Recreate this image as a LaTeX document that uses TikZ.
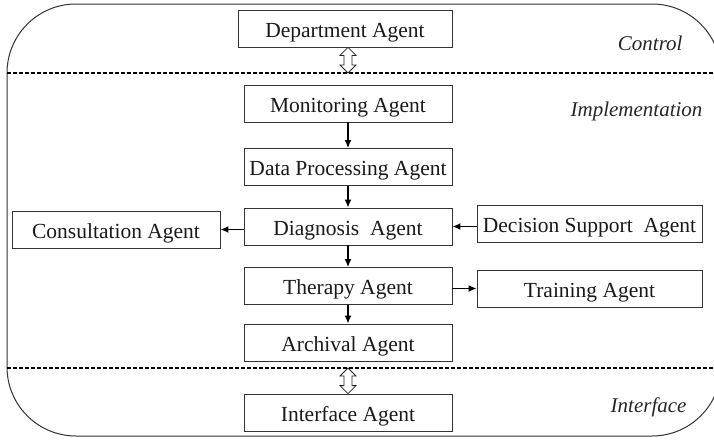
\documentclass[tikz,border=0pt]{standalone}
\usepackage{fontspec}
\setmainfont{Liberation Serif}
\usetikzlibrary{arrows.meta,calc}
\newcommand{\hollowdarrow}[2]{%
  \draw[harrow] let \p1=(#1), \p2=(#2) in
    (\x1,\y1) -- (\x1+8pt,\y1-8pt) -- (\x1+4pt,\y1-8pt) -- (\x1+4pt,\y2+8pt)
    -- (\x1+8pt,\y2+8pt) -- (\x1,\y2) -- (\x1-8pt,\y2+8pt) -- (\x1-4pt,\y2+8pt)
    -- (\x1-4pt,\y1-8pt) -- (\x1-8pt,\y1-8pt) -- cycle;}
\begin{document}
\begin{tikzpicture}[x=1pt,y=-1pt,
  box/.style={draw=black!80, line width=0.8pt, minimum height=37pt, inner sep=0pt,
    text height=18pt, text depth=1pt,
    font=\fontsize{21.5}{25}\selectfont, text=black!90},
  lbl/.style={font=\fontsize{21}{25}\selectfont\itshape, anchor=east, text=black!85},
  conn/.style={line width=1.4pt, -{Latex[length=8pt,width=7pt]}},
  frame/.style={draw=black!80, line width=1pt},
  sep/.style={line width=1.3pt, dash pattern=on 4pt off 2pt},
  harrow/.style={draw=black!85, line width=0.8pt, fill=white}]
\clip (0,0) rectangle (714,439);
\draw[frame, rounded corners=69pt] (7,4) rectangle (721,436);

\coordinate (s1l) at (7,73); \coordinate (s1r) at (714,73);
\coordinate (s2l) at (7,368); \coordinate (s2r) at (714,368);
\draw[sep] (s1l) -- (s1r);
\draw[sep] (s2l) -- (s2r);

\node[box, minimum width=214pt] (dep) at (345,28.5) {Department Agent};
\node[box, minimum width=208pt] (mon) at (348,103.5) {Monitoring Agent};
\node[box, minimum width=208pt] (dat) at (348,167) {Data Processing Agent};
\node[box, minimum width=208pt] (dia) at (348,226.5) {Diagnosis~~Agent};
\node[box, minimum width=208pt] (con) at (116,229.5) {Consultation Agent};
\node[box, minimum width=225pt] (dec) at (589.5,223.5) {Decision Support~~Agent};
\node[box, minimum width=208pt] (the) at (348,286) {Therapy Agent};
\node[box, minimum width=225pt] (tra) at (589.5,288.5) {Training Agent};
\node[box, minimum width=208pt] (arc) at (348,342.5) {Archival Agent};
\node[box, minimum width=208pt] (int) at (348,412.5) {Interface Agent};

\node[lbl] (lc) at (686,43) {Control};
\node[lbl] (li) at (706,111) {Implementation};
\node[lbl] (lf) at (690,407) {Interface};

\draw[conn] (mon) -- (dat);
\draw[conn] (dat) -- (dia);
\draw[conn] (dia) -- (the);
\draw[conn] (the) -- (arc);
\draw[conn] (dia.west |- con.east) -- (con.east);
\draw[conn] (dec.west |- dia.east) -- (dia.east);
\draw[conn] (the.east |- tra.west) -- (tra.west);

\coordinate (a1t) at (mon.north |- dep.south);
\coordinate (a1b) at (mon.north |- s1l);
\hollowdarrow{a1t}{a1b}
\coordinate (a2t) at (int.north |- s2l);
\coordinate (a2b) at (int.north);
\hollowdarrow{a2t}{a2b}
\end{tikzpicture}
\end{document}
